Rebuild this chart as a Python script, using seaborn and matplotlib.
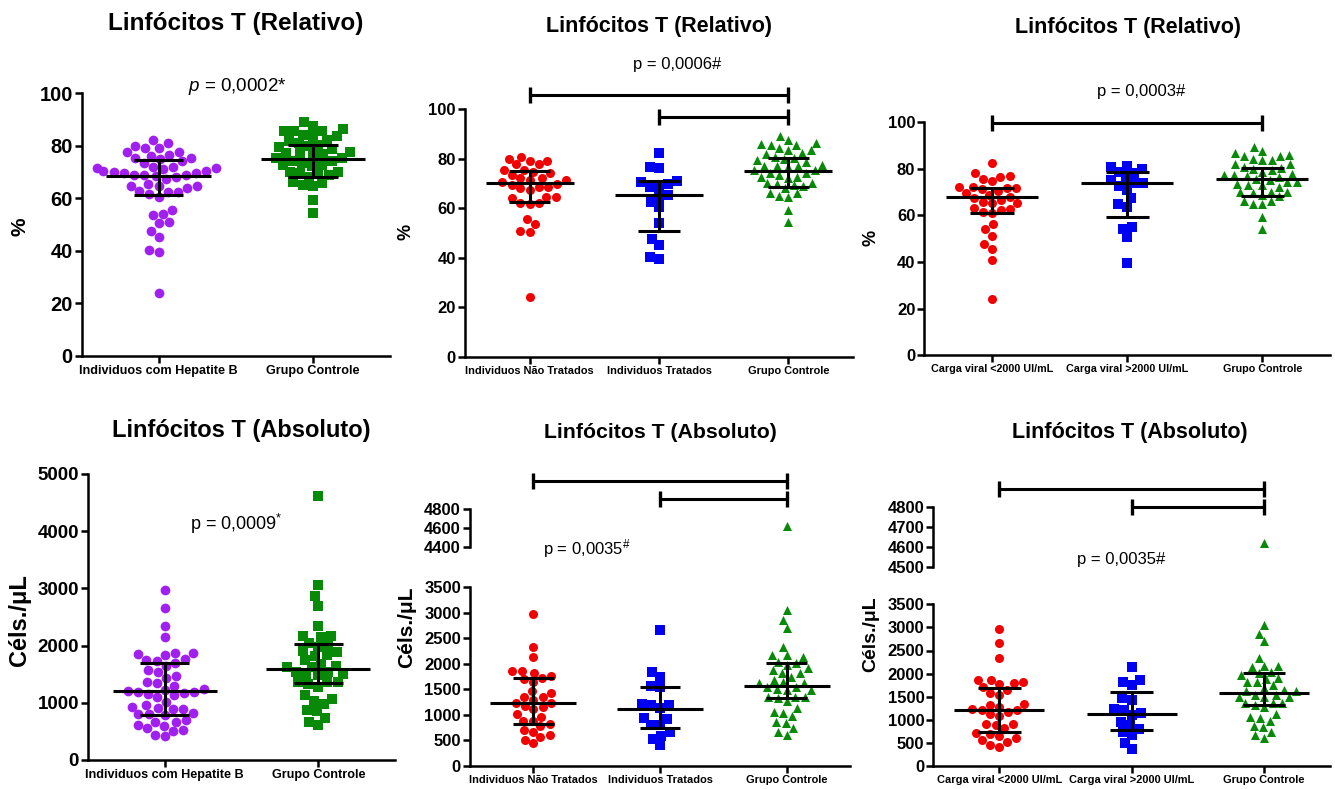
import numpy as np
import pandas as pd
import seaborn as sns
import matplotlib.pyplot as plt
from matplotlib import font_manager

W, H = 1335, 789

# ---- values ----
# Linfócitos T relativo (%)
nao_trat_rel = [80.9, 79.9, 79.2, 79.2, 77.8, 77.8, 75.5, 75.5, 74.8, 74.1, 73.5, 72.1, 72.1,
                71.4, 71.4, 70.5, 70.0, 69.5, 68.7, 68.7, 68.1, 67.4, 64.7, 64.7, 64.0, 62.3,
                62.3, 61.7, 55.7, 53.6, 50.9, 50.5, 24.0]
trat_rel = [82.2, 76.5, 76.1, 71.2, 70.5, 69.8, 68.7, 68.5, 65.4, 64.7, 62.7, 60.6, 53.9,
            47.4, 45.1, 40.4, 39.4]
hep_rel = nao_trat_rel + trat_rel
cv_baixa_rel = [82.3, 78.0, 76.9, 76.6, 75.6, 74.9, 72.3, 72.0, 71.6, 71.6, 71.1, 70.4, 69.5,
                68.8, 67.9, 67.3, 66.5, 65.9, 65.4, 65.1, 63.3, 62.6, 62.3, 61.6, 60.9, 56.1,
                54.1, 51.3, 47.7, 45.4, 40.9, 24.1]
cv_alta_rel = [81.1, 80.6, 79.7, 78.7, 78.0, 75.9, 75.1, 73.7, 73.7, 72.5, 70.9, 67.3, 64.9,
               63.7, 55.1, 54.0, 50.6, 39.4]
ctrl_rel = [89.2, 87.6, 86.5, 85.8, 85.6, 85.6, 84.2, 83.6, 83.6, 82.2, 81.8, 80.9, 80.3, 79.8,
            79.5, 78.7, 77.5, 77.1, 77.1, 76.9, 76.5, 75.5, 75.3, 74.1, 74.1, 73.5, 72.8, 72.8,
            72.3, 70.1, 70.1, 69.8, 69.4, 68.9, 68.1, 66.3, 66.0, 65.0, 64.7, 59.3, 54.3]

# Linfócitos T absoluto (céls./uL)
nao_trat_abs = [2978, 2338, 2142, 1868, 1868, 1828, 1770, 1730, 1698, 1652, 1476, 1437, 1358,
                1345, 1300, 1241, 1228, 1175, 1149, 1110, 1020, 966, 888, 888, 823, 784, 705,
                672, 607, 562, 509, 444]
trat_abs = [2664, 1848, 1750, 1567, 1541, 1215, 1195, 1195, 1130, 934, 914, 803, 803, 672,
            588, 522, 411]
hep_abs = nao_trat_abs + trat_abs
cv_baixa_abs = [2966, 2670, 2345, 1862, 1862, 1811, 1790, 1768, 1703, 1645, 1573, 1537, 1342,
                1321, 1285, 1227, 1212, 1212, 1176, 1118, 1090, 909, 909, 888, 815, 707, 686,
                649, 599, 563, 527, 455, 419]
cv_alta_abs = [2150, 1862, 1826, 1754, 1465, 1429, 1227, 1212, 1150, 1104, 960, 888, 800, 743,
               671, 505, 361]
ctrl_abs = [4620, 3056, 2860, 2697, 2338, 2175, 2175, 2142, 2044, 2011, 1979, 1913, 1881, 1828,
            1815, 1750, 1685, 1652, 1620, 1620, 1541, 1541, 1502, 1489, 1489, 1358, 1358, 1358,
            1326, 1280, 1130, 1064, 1032, 980, 868, 849, 738, 672, 607]

# median and interquartile range lines as drawn in each panel
med_A, q1_A, q3_A = [68.5, 75.1], [61.3, 68.0], [74.6, 80.3]
med_B, q1_B, q3_B = [70.1, 65.5, 75.2], [62.4, 50.9, 68.5], [75.2, 71.2, 80.2]
med_C, q1_C, q3_C = [67.9, 74.0, 75.4], [61.1, 59.4, 68.4], [71.9, 78.6, 80.4]
med_D, q1_D, q3_D = [1206, 1585], [787, 1340], [1690, 2028]
med_E, q1_E, q3_E = [1241, 1117, 1574], [823, 751, 1326], [1730, 1554, 2024]
med_F, q1_F, q3_F = [1205, 1126, 1573], [736, 779, 1313], [1689, 1609, 2020]

lab_hep = ['Individuos com Hepatite B', 'Grupo Controle']
lab_trat = ['Individuos Não Tratados', 'Individuos Tratados', 'Grupo Controle']
lab_cv = ['Carga viral <2000 UI/mL', 'Carga viral >2000 UI/mL', 'Grupo Controle']

PURPLE, GREEN, RED, BLUE = '#A020F0', '#088A08', '#F20000', '#0000F2'

# ---- style ----
sns.set_style('ticks')
plt.rcParams['font.family'] = ['Liberation Sans', 'DejaVu Sans']
plt.rcParams['font.weight'] = 'bold'
plt.rcParams['mathtext.fontset'] = 'custom'
plt.rcParams['mathtext.rm'] = 'Liberation Sans:weight=normal'
plt.rcParams['mathtext.it'] = 'Liberation Sans:style=italic:weight=normal'
for key in ['text.color', 'axes.labelcolor', 'axes.edgecolor', 'xtick.color', 'ytick.color']:
    plt.rcParams[key] = 'black'

names = {f.name for f in font_manager.fontManager.ttflist}
has_narrow = 'Liberation Sans Narrow' in names
narrow = 'Liberation Sans Narrow' if has_narrow else 'Liberation Sans'
nscale = 1.0 if has_narrow else 0.83

fig = plt.figure(figsize=(W / 100, H / 100), dpi=100)


def px_axes(left, top, right, bottom):
    return fig.add_axes([left / W, 1 - bottom / H, (right - left) / W, (bottom - top) / H])


def swarm(ax, groups, labels, colors, markers, size):
    for vals, lab, col, mk in zip(groups, labels, colors, markers):
        df = pd.DataFrame({'grupo': lab, 'valor': vals})
        sns.swarmplot(data=df, x='grupo', y='valor', order=labels, color=col, marker=mk,
                      size=size, linewidth=0, ax=ax)
    ax.set_xlim(-0.5, len(labels) - 0.5)
    ax.set_xlabel('')
    ax.set_ylabel('')


def med_iqr(ax, med, q1, q3):
    x = np.arange(len(med))
    kw = dict(color='black', lw=2.2, zorder=5)
    ax.hlines(med, x - 0.34, x + 0.34, **kw)
    ax.hlines(q1, x - 0.16, x + 0.16, **kw)
    ax.hlines(q3, x - 0.16, x + 0.16, **kw)
    ax.vlines(x, q1, q3, **kw)


def style(ax, ysize, xsize):
    sns.despine(ax=ax)
    for s in ['left', 'bottom']:
        ax.spines[s].set_linewidth(1.8)
    ax.tick_params(width=1.8, length=5, pad=1.5)
    ax.tick_params(axis='y', labelsize=ysize)
    ax.tick_params(axis='x', labelsize=xsize * nscale, labelfontfamily=narrow)


def upper_style(ax, ysize):
    for s in ['top', 'right', 'bottom']:
        ax.spines[s].set_visible(False)
    ax.spines['left'].set_linewidth(1.8)
    ax.set_xticks([])
    ax.tick_params(axis='y', width=1.8, length=5, pad=1.5, labelsize=ysize)


def bracket(ax, x0, x1, y):
    ax.plot([x0, x1], [y, y], color='black', lw=2.2, marker='|', markersize=11,
            markeredgewidth=2.4, clip_on=False, zorder=6)


def ylab(ax, text, size, x, y):
    ax.set_ylabel(text, fontsize=size, fontweight='bold')
    ax.yaxis.set_label_coords(x / W, 1 - y / H, transform=fig.transFigure)


def title(text, x, y, size):
    fig.text(x / W, 1 - y / H, text, ha='center', va='baseline', fontsize=size, fontweight='bold')


def ptext(text, x, y, size, ha='center'):
    fig.text(x / W, 1 - y / H, text, ha=ha, va='baseline', fontsize=size, fontweight='normal')


# ---- A: relativo, hepatite B x controle ----
axA = px_axes(81.7, 93.3, 390, 355.7)
swarm(axA, [hep_rel, ctrl_rel], lab_hep, [PURPLE, GREEN], ['o', 's'], 7.0)
med_iqr(axA, med_A, q1_A, q3_A)
axA.set_ylim(0, 100)
axA.set_yticks(range(0, 101, 20))
style(axA, 14.5, 11)
ylab(axA, '%', 15, 29, 227)
title('Linfócitos T (Relativo)', 236, 30, 17.5)
ptext(r'$\mathit{p}$ = 0,0002*', 237, 91, 13.5)

# ---- B: relativo, tratados ----
axB = px_axes(465, 109.3, 853, 356.7)
swarm(axB, [nao_trat_rel, trat_rel, ctrl_rel], lab_trat, [RED, BLUE, GREEN], ['o', 's', '^'], 6.5)
med_iqr(axB, med_B, q1_B, q3_B)
axB.set_ylim(0, 100)
axB.set_yticks(range(0, 101, 20))
style(axB, 12, 9.5)
ylab(axB, '%', 13, 414, 232)
bracket(axB, 0, 2, 105.8)
bracket(axB, 1, 2, 97.0)
title('Linfócitos T (Relativo)', 659, 32, 15.5)
ptext('p = 0,0006#', 677, 69.5, 12)

# ---- C: relativo, carga viral ----
axC = px_axes(924.3, 122, 1330, 355.3)
swarm(axC, [cv_baixa_rel, cv_alta_rel, ctrl_rel], lab_cv, [RED, BLUE, GREEN], ['o', 's', '^'], 6.5)
med_iqr(axC, med_C, q1_C, q3_C)
axC.set_ylim(0, 100)
axC.set_yticks(range(0, 101, 20))
style(axC, 12, 9.3)
ylab(axC, '%', 13, 879, 238)
bracket(axC, 0, 2, 99.4)
title('Linfócitos T (Relativo)', 1128, 33, 15.5)
ptext('p = 0,0003#', 1141, 96, 12)

# ---- D: absoluto, hepatite B x controle ----
axD = px_axes(88, 474, 395, 760)
swarm(axD, [hep_abs, ctrl_abs], lab_hep, [PURPLE, GREEN], ['o', 's'], 7.0)
med_iqr(axD, med_D, q1_D, q3_D)
axD.set_ylim(0, 5000)
axD.set_yticks(range(0, 5001, 1000))
style(axD, 13.5, 11)
ylab(axD, 'Céls./μL', 17, 31, 620)
title('Linfócitos T (Absoluto)', 241, 437, 17)
ptext(r'p = 0,0009$^{*}$', 190, 529.5, 13, ha='left')

# ---- E: absoluto, tratados (eixo interrompido) ----
axE = px_axes(470, 587.3, 850, 766)
axE_top = px_axes(470, 509.3, 850, 546.7)
for ax in (axE, axE_top):
    swarm(ax, [nao_trat_abs, trat_abs, ctrl_abs], lab_trat, [RED, BLUE, GREEN],
          ['o', 's', '^'], 6.5)
med_iqr(axE, med_E, q1_E, q3_E)
axE.set_ylim(0, 3500)
axE.set_yticks(range(0, 3501, 500))
style(axE, 12, 9.5)
axE_top.set_ylim(4400, 4800)
axE_top.set_yticks([4400, 4600, 4800])
upper_style(axE_top, 12)
ylab(axE, 'Céls./μL', 15, 416, 627)
bracket(axE_top, 0, 2, 5106)
bracket(axE_top, 1, 2, 4910)
title('Linfócitos T (Absoluto)', 660, 438, 15.3)
ptext(r'p = 0,0035$^{\#}$', 543, 554, 12, ha='left')

# ---- F: absoluto, carga viral (eixo interrompido) ----
axF = px_axes(933.3, 604.3, 1330, 766)
axF_top = px_axes(933.3, 506.7, 1330, 567.3)
for ax in (axF, axF_top):
    swarm(ax, [cv_baixa_abs, cv_alta_abs, ctrl_abs], lab_cv, [RED, BLUE, GREEN],
          ['o', 's', '^'], 6.5)
med_iqr(axF, med_F, q1_F, q3_F)
axF.set_ylim(0, 3500)
axF.set_yticks(range(0, 3501, 500))
style(axF, 12, 9.5)
axF_top.set_ylim(4500, 4800)
axF_top.set_yticks([4500, 4600, 4700, 4800])
upper_style(axF_top, 12)
ylab(axF, 'Céls./μL', 14, 879, 634)
bracket(axF_top, 0, 2, 4888)
bracket(axF_top, 1, 2, 4800)
title('Linfócitos T (Absoluto)', 1130, 438, 15.5)
ptext('p = 0,0035#', 1121, 564, 12)

fig.savefig('out.png', dpi=100)
